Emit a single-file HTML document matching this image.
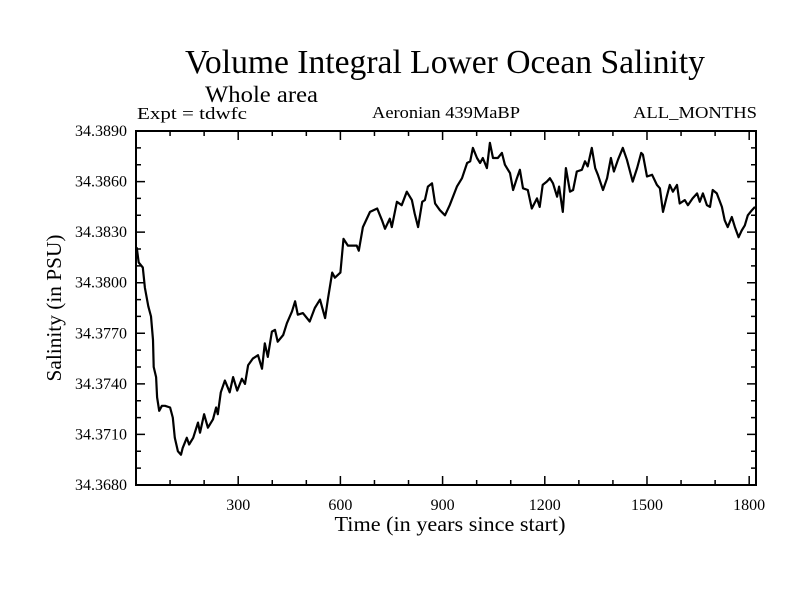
<!DOCTYPE html>
<html><head><meta charset="utf-8"><style>body{margin:0;background:#fff}svg{display:block}</style></head>
<body>
<svg id="chart" width="800" height="600" xmlns="http://www.w3.org/2000/svg" font-family="Liberation Serif, serif">
<rect width="800" height="600" fill="#fff"/>
<text x="445" y="73" font-size="34" text-anchor="middle" textLength="520" lengthAdjust="spacingAndGlyphs">Volume Integral Lower Ocean Salinity</text>
<text x="205" y="102" font-size="23" textLength="113" lengthAdjust="spacingAndGlyphs">Whole area</text>
<text x="137" y="119" font-size="17" textLength="110" lengthAdjust="spacingAndGlyphs">Expt = tdwfc</text>
<text x="446" y="118" font-size="17" text-anchor="middle" textLength="148" lengthAdjust="spacingAndGlyphs">Aeronian 439MaBP</text>
<text x="757" y="118" font-size="17" text-anchor="end" textLength="124" lengthAdjust="spacingAndGlyphs">ALL_MONTHS</text>
<text transform="translate(61,308) rotate(-90)" font-size="21" text-anchor="middle" textLength="147" lengthAdjust="spacingAndGlyphs">Salinity (in PSU)</text>
<text x="450" y="531" font-size="21" text-anchor="middle" textLength="231" lengthAdjust="spacingAndGlyphs">Time (in years since start)</text>
<g id="axes"></g>
<g id="series"></g>
</svg>
<script>
const years=[2,8,20,26,36,44,50,52,59,62,68,76,85,100,108,114,123,132,137,149,156,168,182,188,200,211,226,235,240,249,261,275,285,297,311,320,329,343,358,370,378,387,399,408,416,432,443,458,467,475,490,510,525,540,555,564,576,584,600,609,622,628,648,654,666,687,708,722,731,745,751,766,780,795,810,818,828,840,848,857,869,878,892,907,921,942,957,972,981,989,1001,1010,1018,1030,1039,1048,1062,1074,1083,1098,1107,1118,1127,1136,1150,1162,1177,1185,1194,1206,1215,1224,1236,1242,1253,1262,1274,1283,1294,1309,1318,1326,1338,1348,1356,1371,1383,1394,1403,1415,1429,1441,1458,1471,1483,1488,1500,1515,1529,1538,1547,1558,1567,1576,1588,1596,1611,1620,1634,1647,1655,1664,1676,1685,1693,1705,1720,1728,1737,1749,1758,1769,1778,1787,1796,1808,1817];
const salinity=[34.3821,34.3812,34.3809,34.3797,34.3786,34.3780,34.3766,34.3750,34.3744,34.3732,34.3724,34.3727,34.3727,34.3726,34.3720,34.3708,34.3700,34.3698,34.3702,34.3708,34.3704,34.3708,34.3717,34.3711,34.3722,34.3714,34.3719,34.3726,34.3722,34.3735,34.3742,34.3735,34.3744,34.3736,34.3743,34.3740,34.3751,34.3755,34.3757,34.3749,34.3764,34.3756,34.3771,34.3772,34.3765,34.3769,34.3776,34.3783,34.3789,34.3781,34.3782,34.3777,34.3785,34.3790,34.3779,34.3791,34.3806,34.3803,34.3806,34.3826,34.3822,34.3822,34.3822,34.3819,34.3833,34.3842,34.3844,34.3837,34.3832,34.3838,34.3833,34.3848,34.3846,34.3854,34.3849,34.3841,34.3833,34.3848,34.3849,34.3857,34.3859,34.3847,34.3843,34.3840,34.3846,34.3857,34.3862,34.3871,34.3872,34.3880,34.3874,34.3871,34.3874,34.3868,34.3883,34.3874,34.3874,34.3877,34.3870,34.3865,34.3855,34.3862,34.3867,34.3856,34.3855,34.3844,34.3850,34.3845,34.3858,34.3860,34.3862,34.3859,34.3851,34.3857,34.3842,34.3868,34.3854,34.3855,34.3866,34.3867,34.3872,34.3869,34.3880,34.3868,34.3864,34.3855,34.3862,34.3874,34.3866,34.3873,34.3880,34.3873,34.3860,34.3868,34.3877,34.3876,34.3863,34.3864,34.3858,34.3856,34.3842,34.3851,34.3858,34.3854,34.3858,34.3847,34.3849,34.3846,34.3850,34.3853,34.3848,34.3853,34.3846,34.3845,34.3855,34.3853,34.3845,34.3837,34.3833,34.3839,34.3833,34.3827,34.3831,34.3834,34.3840,34.3843,34.3845];
const xTicks=[300,600,900,1200,1500,1800];
const yTicks=[34.368,34.371,34.374,34.377,34.380,34.383,34.386,34.389];
const xMin=0,xMax=1820,yMin=34.368,yMax=34.389;
const L=136,R=756,T=131,B=485;
const NS='http://www.w3.org/2000/svg';
const sx=v=>L+(v-xMin)/(xMax-xMin)*(R-L);
const sy=v=>B-(v-yMin)/(yMax-yMin)*(B-T);
const axes=document.getElementById('axes');
function mk(tag,attrs,parent){const e=document.createElementNS(NS,tag);for(const k in attrs)e.setAttribute(k,attrs[k]);parent.appendChild(e);return e;}
const frame=mk('rect',{x:L,y:T,width:R-L,height:B-T,fill:'none',stroke:'#000','stroke-width':2},axes);


let d='';
for(let v=100;v<xMax;v+=100){const x=sx(v);const len=(v%300===0)?9:5;d+=`M${x},${B}v${-len}M${x},${T}v${len}`;}
for(let i=0;i<=21;i++){const v=yMin+i*0.001;const y=sy(v);const len=(i%3===0)?9:5;d+=`M${L},${y}h${len}M${R},${y}h${-len}`;}
const ticks=mk('path',{d:d,stroke:'#000','stroke-width':1.5,fill:'none'},axes);


xTicks.forEach(v=>{const t=mk('text',{x:sx(v),y:510,'font-size':16,'text-anchor':'middle'},axes);t.textContent=String(v);

});
yTicks.forEach(v=>{const t=mk('text',{x:127,y:sy(v)+5,'font-size':16,'text-anchor':'end','textLength':52,'lengthAdjust':'spacingAndGlyphs'},axes);t.textContent=v.toFixed(4);

});
const pts=years.map((y,i)=>sx(y).toFixed(1)+','+sy(salinity[i]).toFixed(1)).join(' ');
const line=mk('polyline',{points:pts,fill:'none',stroke:'#000','stroke-width':2.2,'stroke-linejoin':'round'},document.getElementById('series'));


</script>
</body></html>
